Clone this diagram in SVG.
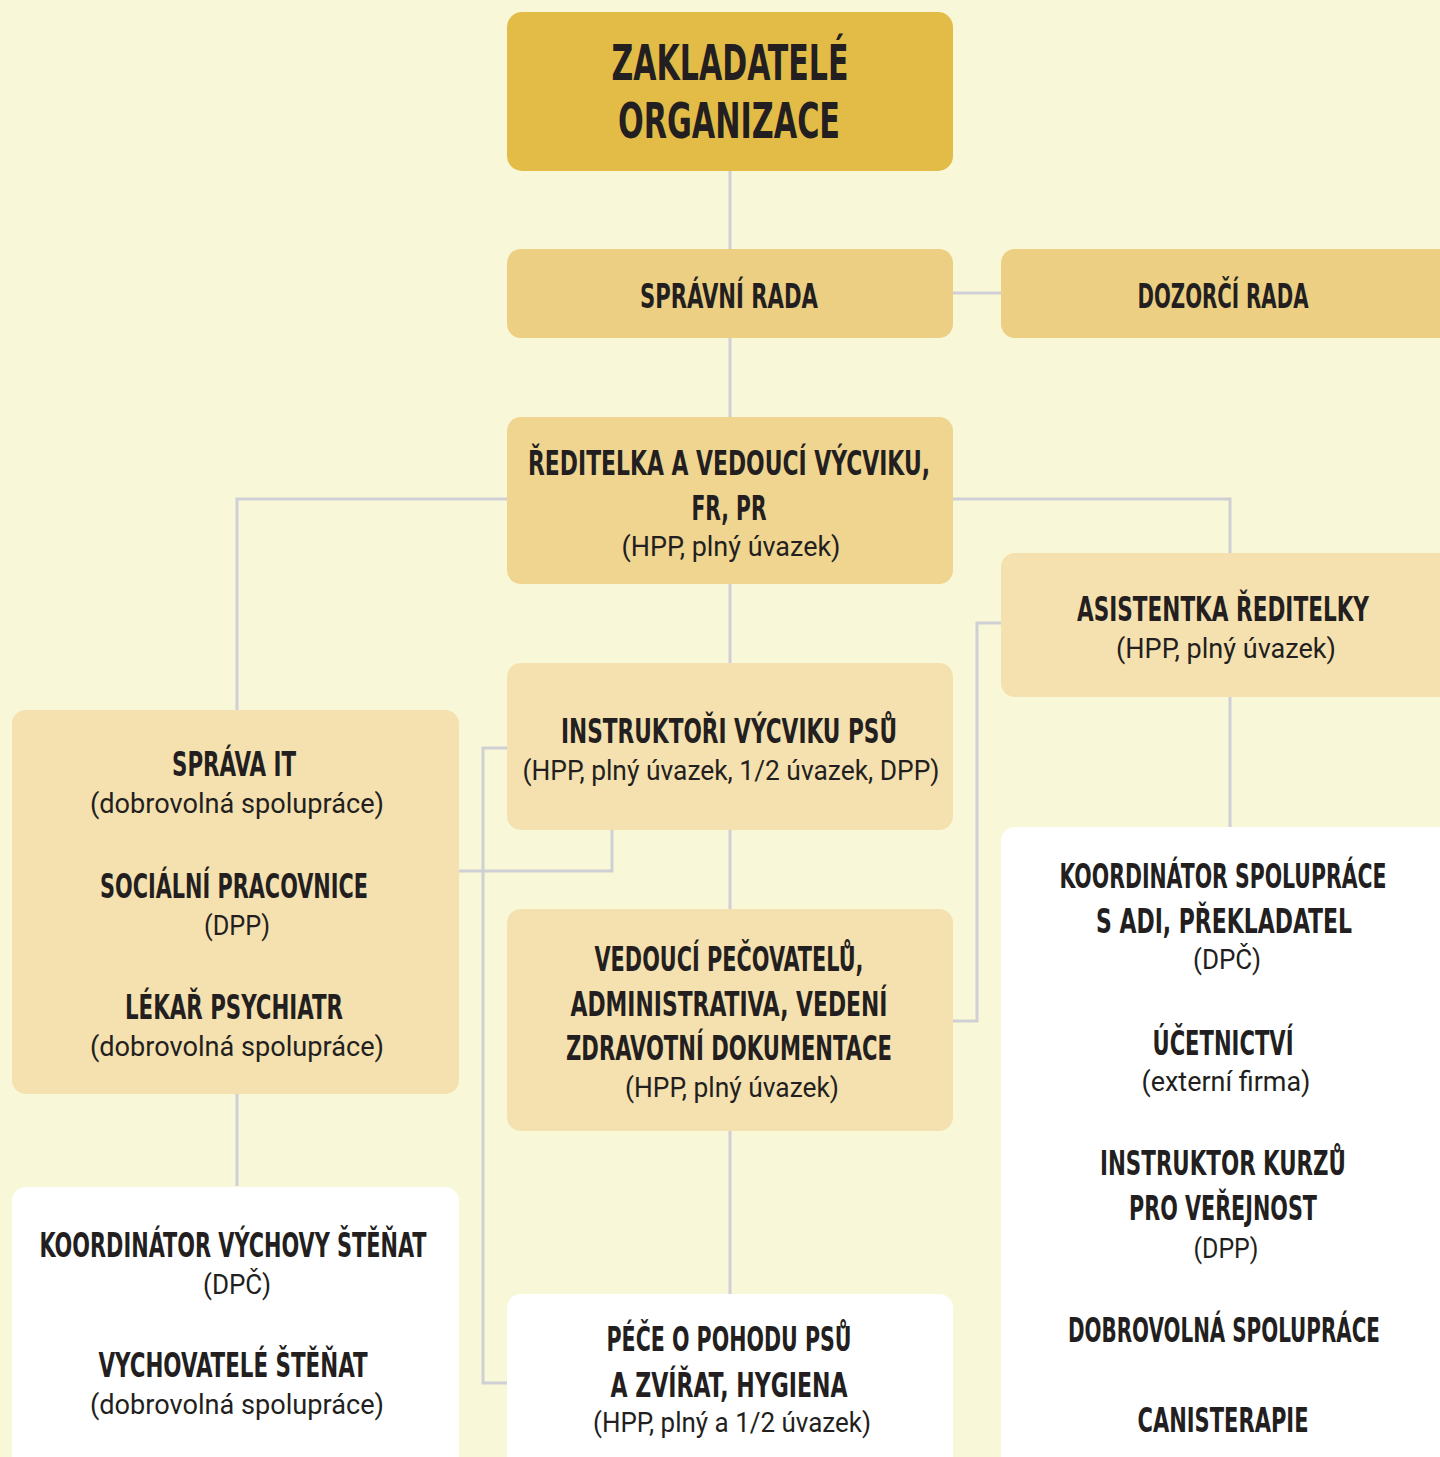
<svg xmlns="http://www.w3.org/2000/svg" width="1440" height="1457" viewBox="0 0 1440 1457">
<style>
.h{font-family:"DejaVu Sans Condensed","DejaVu Sans","Liberation Sans",sans-serif;font-weight:bold;fill:#231F20;text-anchor:middle}
.s{font-family:Roboto,"Liberation Sans",sans-serif;font-size:27px;fill:#231F20;text-anchor:middle}
.c{fill:none;stroke:#CFCFD6;stroke-width:3}
.gold{fill:#E3BC47}
.mid{fill:#ECCF83}
.mid2{fill:#EFD590}
.light{fill:#F5E1AF}
.white{fill:#FFFFFF}
</style>
<rect width="1440" height="1457" fill="#F8F7D7"/>
<g id="connectors">
<path class="c" d="M730 171V249"/>
<path class="c" d="M953 293H1001"/>
<path class="c" d="M730 338V417"/>
<path class="c" d="M507 499H237V710"/>
<path class="c" d="M953 499H1230V553"/>
<path class="c" d="M730 584V663"/>
<path class="c" d="M730 830V909"/>
<path class="c" d="M730 1131V1294"/>
<path class="c" d="M1230 697V827"/>
<path class="c" d="M237 1094V1186"/>
<path class="c" d="M1001 623H977V1021H953"/>
<path class="c" d="M507 748H483V1383H507"/>
<path class="c" d="M459 871H612V830"/>
</g>
<g id="zakladatele">
<rect class="gold" x="507" y="12" width="446" height="159" rx="15"/>
<text class="h" x="730" y="80" font-size="50" textLength="237" lengthAdjust="spacingAndGlyphs">ZAKLADATELÉ</text>
<text class="h" x="729" y="138" font-size="50" textLength="222" lengthAdjust="spacingAndGlyphs">ORGANIZACE</text>
</g>
<g id="spravni-rada">
<rect class="mid" x="507" y="249" width="446" height="89" rx="14"/>
<text class="h" x="729" y="308" font-size="33" textLength="178" lengthAdjust="spacingAndGlyphs">SPRÁVNÍ RADA</text>
</g>
<g id="dozorci-rada">
<path class="mid" d="M1440 249H1015A14 14 0 0 0 1001 263V324A14 14 0 0 0 1015 338H1440Z"/>
<text class="h" x="1223" y="308" font-size="33" textLength="171" lengthAdjust="spacingAndGlyphs">DOZORČÍ RADA</text>
</g>
<g id="reditelka">
<rect class="mid2" x="507" y="417" width="446" height="167" rx="14"/>
<text class="h" x="729" y="475" font-size="33" textLength="402" lengthAdjust="spacingAndGlyphs">ŘEDITELKA A VEDOUCÍ VÝCVIKU,</text>
<text class="h" x="729" y="520" font-size="33" textLength="75" lengthAdjust="spacingAndGlyphs">FR, PR</text>
<text class="s" x="731" y="556" textLength="219" lengthAdjust="spacingAndGlyphs">(HPP, plný úvazek)</text>
</g>
<g id="asistentka">
<path class="light" d="M1440 553H1015A14 14 0 0 0 1001 567V683A14 14 0 0 0 1015 697H1440Z"/>
<text class="h" x="1223" y="621" font-size="33" textLength="292" lengthAdjust="spacingAndGlyphs">ASISTENTKA ŘEDITELKY</text>
<text class="s" x="1226" y="658" textLength="220" lengthAdjust="spacingAndGlyphs">(HPP, plný úvazek)</text>
</g>
<g id="instruktori">
<rect class="light" x="507" y="663" width="446" height="167" rx="14"/>
<text class="h" x="729" y="743" font-size="33" textLength="336" lengthAdjust="spacingAndGlyphs">INSTRUKTOŘI VÝCVIKU PSŮ</text>
<text class="s" x="731" y="780" textLength="417" lengthAdjust="spacingAndGlyphs">(HPP, plný úvazek, 1/2 úvazek, DPP)</text>
</g>
<g id="sprava-it">
<rect class="light" x="12" y="710" width="447" height="384" rx="14"/>
<text class="h" x="234" y="776" font-size="33" textLength="124" lengthAdjust="spacingAndGlyphs">SPRÁVA IT</text>
<text class="s" x="237" y="813" textLength="294" lengthAdjust="spacingAndGlyphs">(dobrovolná spolupráce)</text>
<text class="h" x="234" y="898" font-size="33" textLength="268" lengthAdjust="spacingAndGlyphs">SOCIÁLNÍ PRACOVNICE</text>
<text class="s" x="237" y="935" textLength="66" lengthAdjust="spacingAndGlyphs">(DPP)</text>
<text class="h" x="234" y="1019" font-size="33" textLength="218" lengthAdjust="spacingAndGlyphs">LÉKAŘ PSYCHIATR</text>
<text class="s" x="237" y="1056" textLength="294" lengthAdjust="spacingAndGlyphs">(dobrovolná spolupráce)</text>
</g>
<g id="vedouci-pecovatelu">
<rect class="light" x="507" y="909" width="446" height="222" rx="14"/>
<text class="h" x="729" y="971" font-size="33" textLength="269" lengthAdjust="spacingAndGlyphs">VEDOUCÍ PEČOVATELŮ,</text>
<text class="h" x="729" y="1016" font-size="33" textLength="317" lengthAdjust="spacingAndGlyphs">ADMINISTRATIVA, VEDENÍ</text>
<text class="h" x="729" y="1060" font-size="33" textLength="326" lengthAdjust="spacingAndGlyphs">ZDRAVOTNÍ DOKUMENTACE</text>
<text class="s" x="732" y="1097" textLength="214" lengthAdjust="spacingAndGlyphs">(HPP, plný úvazek)</text>
</g>
<g id="koordinator-spoluprace">
<path class="white" d="M1440 827H1015A14 14 0 0 0 1001 841V1457H1440Z"/>
<text class="h" x="1223" y="888" font-size="33" textLength="327" lengthAdjust="spacingAndGlyphs">KOORDINÁTOR SPOLUPRÁCE</text>
<text class="h" x="1224" y="933" font-size="33" textLength="256" lengthAdjust="spacingAndGlyphs">S ADI, PŘEKLADATEL</text>
<text class="s" x="1227" y="969" textLength="68" lengthAdjust="spacingAndGlyphs">(DPČ)</text>
<text class="h" x="1223" y="1055" font-size="33" textLength="141" lengthAdjust="spacingAndGlyphs">ÚČETNICTVÍ</text>
<text class="s" x="1226" y="1091" textLength="169" lengthAdjust="spacingAndGlyphs">(externí firma)</text>
<text class="h" x="1223" y="1175" font-size="33" textLength="246" lengthAdjust="spacingAndGlyphs">INSTRUKTOR KURZŮ</text>
<text class="h" x="1223" y="1220" font-size="33" textLength="188" lengthAdjust="spacingAndGlyphs">PRO VEŘEJNOST</text>
<text class="s" x="1226" y="1258" textLength="65" lengthAdjust="spacingAndGlyphs">(DPP)</text>
<text class="h" x="1224" y="1342" font-size="33" textLength="312" lengthAdjust="spacingAndGlyphs">DOBROVOLNÁ SPOLUPRÁCE</text>
<text class="h" x="1223" y="1432" font-size="33" textLength="171" lengthAdjust="spacingAndGlyphs">CANISTERAPIE</text>
</g>
<g id="koordinator-vychovy">
<path class="white" d="M12 1457V1201A14 14 0 0 1 26 1187H445A14 14 0 0 1 459 1201V1457Z"/>
<text class="h" x="233" y="1257" font-size="33" textLength="387" lengthAdjust="spacingAndGlyphs">KOORDINÁTOR VÝCHOVY ŠTĚŇAT</text>
<text class="s" x="237" y="1294" textLength="68" lengthAdjust="spacingAndGlyphs">(DPČ)</text>
<text class="h" x="233" y="1377" font-size="33" textLength="269" lengthAdjust="spacingAndGlyphs">VYCHOVATELÉ ŠTĚŇAT</text>
<text class="s" x="237" y="1414" textLength="294" lengthAdjust="spacingAndGlyphs">(dobrovolná spolupráce)</text>
</g>
<g id="pece-o-pohodu">
<path class="white" d="M507 1457V1308A14 14 0 0 1 521 1294H939A14 14 0 0 1 953 1308V1457Z"/>
<text class="h" x="729" y="1351" font-size="33" textLength="245" lengthAdjust="spacingAndGlyphs">PÉČE O POHODU PSŮ</text>
<text class="h" x="729" y="1397" font-size="33" textLength="237" lengthAdjust="spacingAndGlyphs">A ZVÍŘAT, HYGIENA</text>
<text class="s" x="732" y="1432" textLength="278" lengthAdjust="spacingAndGlyphs">(HPP, plný a 1/2 úvazek)</text>
</g>
</svg>
